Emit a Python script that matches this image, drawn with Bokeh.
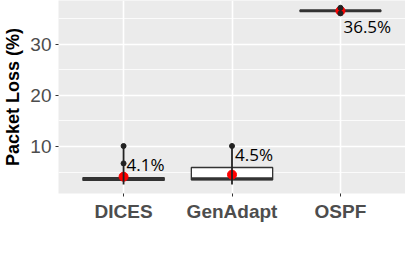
from bokeh.plotting import figure
from bokeh.models import Range1d, FixedTicker, ColumnDataSource
from bokeh.core.properties import value
from bokeh.embed import file_html
from bokeh.resources import INLINE

# ---- data ----
categories = ["DICES", "GenAdapt", "OSPF"]
q1 = [3.4, 3.5, 36.47]
median = [3.6, 3.7, 36.5]
q3 = [3.9, 5.9, 36.53]
low = [2.6, 2.6, 36.0]
high = [10.1, 10.1, 37.1]
outlier_cat = ["DICES", "DICES", "GenAdapt", "OSPF", "OSPF"]
outlier_val = [10.1, 6.7, 10.1, 36.0, 37.1]
mean = [4.1, 4.5, 36.5]
labels = ["4.1%", "4.5%", "36.5%"]
label_y = [6.5, 8.4, 33.4]
y_ticks = [10, 20, 30]
y_minor = [5, 15, 25, 35]

# ---- layout / style ----
BOX_HALF = 0.375
pos = {c: i + 1 for i, c in enumerate(categories)}
xs = [pos[c] for c in categories]

src = ColumnDataSource(dict(
    x=xs,
    left=[x - BOX_HALF for x in xs],
    right=[x + BOX_HALF for x in xs],
    q1=q1, q3=q3, median=median, low=low, high=high,
    mean=mean, labels=labels, label_y=label_y,
))
out_src = ColumnDataSource(dict(x=[pos[c] for c in outlier_cat], y=outlier_val))

p = figure(
    frame_width=347, frame_height=193,
    x_range=Range1d(0.4, 3.6), y_range=Range1d(0.82, 38.52),
    output_backend="svg", toolbar_location=None,
    min_border_left=52, min_border_right=0, min_border_top=0, min_border_bottom=46,
    background_fill_color="#EBEBEB", border_fill_color="white",
    outline_line_color=None,
)

# grid
p.xgrid.ticker = FixedTicker(ticks=xs)
p.xgrid.grid_line_color = "white"
p.xgrid.grid_line_width = 1.6
p.ygrid.ticker = FixedTicker(ticks=y_ticks, minor_ticks=y_minor)
p.ygrid.grid_line_color = "white"
p.ygrid.grid_line_width = 1.6
p.ygrid.minor_grid_line_color = "white"
p.ygrid.minor_grid_line_width = 0.8

# boxes
p.quad(left="left", right="right", bottom="q1", top="q3", source=src,
       fill_color="white", line_color="#333333", line_width=1.3)
p.segment(x0="left", x1="right", y0="median", y1="median", source=src,
          line_color="#333333", line_width=3)
# mean points
p.scatter(x="x", y="mean", source=src, size=9, fill_color="#FF0000", line_color="#FF0000")
# range lines
p.segment(x0="x", x1="x", y0="low", y1="high", source=src,
          line_color="#222222", line_width=1.8)
p.scatter(x="x", y="y", source=out_src, size=5, fill_color="#222222", line_color="#222222")

# labels
p.text(x="x", y="label_y", text="labels", source=src, x_offset=3,
       text_font=value("Open Sans"), text_font_size="17px",
       text_baseline="middle", text_align="left", text_color="black")

# axes
xa = p.xaxis[0]
xa.ticker = FixedTicker(ticks=xs)
xa.major_label_overrides = {pos[c]: c for c in categories}
xa.major_label_text_font = "Liberation Sans"
xa.major_label_text_font_style = "bold"
xa.major_label_text_font_size = "19px"
xa.major_label_text_color = "#4D4D4D"
xa.major_label_standoff = 4
xa.axis_line_color = None
xa.major_tick_line_color = "#333333"
xa.major_tick_out = 3
xa.major_tick_in = 0
xa.minor_tick_line_color = None

ya = p.yaxis[0]
ya.ticker = FixedTicker(ticks=y_ticks, minor_ticks=y_minor)
ya.major_label_text_font = "Liberation Sans"
ya.major_label_text_font_size = "19px"
ya.major_label_text_color = "#4D4D4D"
ya.major_label_standoff = 3
ya.axis_line_color = None
ya.major_tick_line_color = "#333333"
ya.major_tick_out = 3
ya.major_tick_in = 0
ya.minor_tick_line_color = None
ya.axis_label = "Packet Loss (%)"
ya.axis_label_text_font = "Liberation Sans"
ya.axis_label_text_font_style = "bold"
ya.axis_label_text_font_size = "18px"
ya.axis_label_text_color = "black"
ya.axis_label_standoff = 4

open("out.html", "w").write(file_html(p, INLINE))
